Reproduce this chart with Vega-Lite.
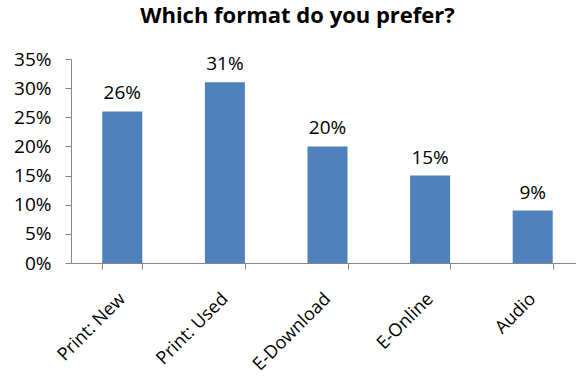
{
  "$schema": "https://vega.github.io/schema/vega-lite/v6.json",
  "autosize": "none",
  "width": 513,
  "height": 204,
  "padding": {"left": 71, "top": 59, "right": 0, "bottom": 116},
  "background": "white",
  "title": {
    "text": "Which format do you prefer?",
    "font": "Open Sans",
    "fontSize": 22,
    "fontWeight": "bold",
    "color": "#000000",
    "anchor": "middle",
    "frame": "group",
    "dx": -30,
    "offset": 22
  },
  "data": {
    "values": [
      {"format": "Print: New", "share": 0.26},
      {"format": "Print: Used", "share": 0.31},
      {"format": "E-Download", "share": 0.20},
      {"format": "E-Online", "share": 0.15},
      {"format": "Audio", "share": 0.09}
    ]
  },
  "encoding": {
    "x": {
      "field": "format",
      "type": "nominal",
      "sort": null,
      "scale": {"paddingInner": 0.61, "paddingOuter": 0.305},
      "axis": {
        "title": null,
        "labelAngle": -45,
        "labelAlign": "right",
        "labelBaseline": "middle",
        "labelFont": "Open Sans",
        "labelFontSize": 18,
        "labelColor": "#000000",
        "labelPadding": 27,
        "tickBand": "extent",
        "tickSize": 6,
        "tickColor": "#868686",
        "domainColor": "#868686",
        "grid": false
      }
    },
    "y": {
      "field": "share",
      "type": "quantitative",
      "scale": {"domain": [0, 0.35], "nice": false},
      "axis": {
        "title": null,
        "format": ".0%",
        "values": [0, 0.05, 0.1, 0.15, 0.2, 0.25, 0.3, 0.35],
        "labelFont": "Open Sans",
        "labelFontSize": 19,
        "labelColor": "#000000",
        "labelPadding": 14,
        "tickSize": 6,
        "tickColor": "#868686",
        "domainColor": "#868686",
        "grid": false
      }
    }
  },
  "layer": [
    {"mark": {"type": "bar", "color": "#4F81BD"}},
    {
      "mark": {"type": "text", "baseline": "alphabetic", "dy": -12, "font": "Open Sans", "fontSize": 19, "color": "#000000"},
      "encoding": {"text": {"field": "share", "type": "quantitative", "format": ".0%"}}
    }
  ],
  "config": {"view": {"stroke": null}}
}
